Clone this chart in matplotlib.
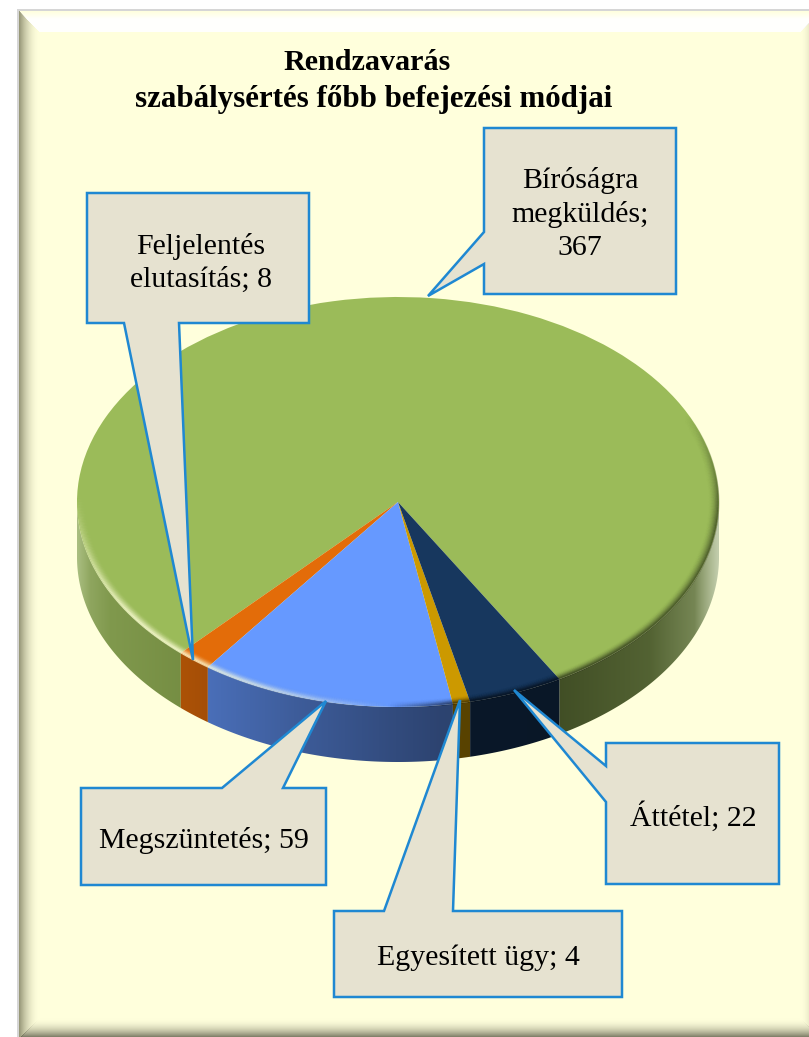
import numpy as np
import matplotlib
matplotlib.use("Agg")
import matplotlib.pyplot as plt
from matplotlib.patches import Polygon
from matplotlib.collections import LineCollection
from matplotlib.colors import to_rgb

W, H = 809, 1037
TITLE = ["Rendzavarás", "szabálysértés főbb befejezési módjai"]
categories = ["Bíróságra megküldés", "Feljelentés elutasítás", "Megszüntetés", "Egyesített ügy", "Áttétel"]
values = [367, 8, 59, 4, 22]
colors = ["#9BBB59", "#E36C09", "#6699FF", "#CC9900", "#17375E"]
label_lines = [["Bíróságra", "megküldés;", "367"], ["Feljelentés", "elutasítás; 8"],
               ["Megszüntetés; 59"], ["Egyesített ügy; 4"], ["Áttétel; 22"]]

plt.rcParams["font.family"] = ["Liberation Serif", "DejaVu Serif"]
fig = plt.figure(figsize=(W / 100, H / 100), dpi=100, facecolor="white")
ax = fig.add_axes([0, 0, 1, 1])
ax.set_xlim(0, W); ax.set_ylim(H, 0); ax.axis("off")

# frame with bevel
yy, xx = np.mgrid[0:H, 0:W] + 0.5
img = np.ones((H, W, 3))
L, T, R, B = 19, 11, 821, 1039
base = np.array([255, 255, 220]) / 255
img[(xx >= 17) & (yy >= 9)] = np.array([214, 214, 214]) / 255
inside = (xx >= L) & (yy >= T)
img[inside] = base
dl, dt, dr, db = xx - L, yy - T, R - xx, B - yy
bw = 21.0
def blend(mask, col, a):
    a = np.clip(a, 0, 1)[..., None]
    img[mask] = (img * (1 - a) + np.array(col) / 255 * a)[mask]
dm = np.minimum.reduce([dl, dt, dr, db])
ramp = lambda d: np.clip((bw - d) / bw, 0, 1)
blend(inside & (dl == dm), (120, 120, 90), ramp(dl) ** 2 * 0.8)
blend(inside & (dt == dm), (255, 255, 255), np.clip(dt / 8, 0, 1) * (dt < bw) * 0.95)
blend(inside & (dr == dm), (120, 120, 90), ramp(dr) ** 2 * 0.8)
blend(inside & (db == dm), (95, 95, 75), ramp(db) ** 2 * 1.0)
ax.imshow(img, extent=(0, W, H, 0), zorder=0, interpolation="nearest", aspect="auto")

# pie geometry in pixels
CX, CY, RX, RY, DEPTH = 398, 502, 321, 205, 55
pax = fig.add_axes([(CX - RX) / W, 1 - (CY + RY) / H, 2 * RX / W, 2 * RY / H], zorder=2)
wedges, _ = pax.pie(values, colors=colors, startangle=-59.8, radius=1, counterclock=True,
                    wedgeprops=dict(linewidth=0))
pax.set_aspect("auto")
pax.set_xlim(-1, 1); pax.set_ylim(-1, 1)
pax.set_clip_on(False)

# side wall, drawn in the pixel axes from the same slice angles
fx = [76, 90, 110, 180, 300, 440, 560, 650, 695, 718]
ff = [.88, .82, .80, .76, .60, .44, .42, .50, .60, .75]
fw = [.30, .12, .03, 0, 0, 0, 0, .03, .15, .55]
xs = np.arange(CX - RX, CX + RX + 1)
shade = np.interp(xs, fx, ff)[None, :, None]
white = np.interp(xs, fx, fw)[None, :, None]
side_ax_extent = (CX - RX, CX + RX, CY + RY + DEPTH + 5, CY - 5)
def side(theta1, theta2, col):
    t1, t2 = max(theta1, 180), min(theta2, 360)
    if t2 <= t1:
        return
    t = np.radians(np.linspace(t1, t2, 120))
    x = CX + RX * np.cos(t); y = CY - RY * np.sin(t)
    verts = np.r_[np.c_[x, y], np.c_[x, y + DEPTH][::-1]]
    poly = Polygon(verts, closed=True, transform=ax.transData, fc="none", ec="none")
    ax.add_patch(poly)
    rgb = np.array(to_rgb(col))[None, None, :] * shade * (1 - white) + white
    im = ax.imshow(rgb, extent=side_ax_extent, aspect="auto", zorder=1, interpolation="bilinear")
    im.set_clip_path(poly)
for w, c in zip(wedges, colors):
    a, b = w.theta1, w.theta2
    side(a, b, c)
    side(a + 360, b + 360, c)
    side(a - 360, b - 360, c)
ax.set_xlim(0, W); ax.set_ylim(H, 0)

# rim lighting on the upper face
t = np.radians(np.linspace(170, 385, 500))
pts = np.c_[np.cos(t), np.sin(t)]
deg = np.degrees(t[:-1])
light = np.clip((deg - 178) / 35, 0, 1) * np.clip((268 - deg) / 40, 0, 1)
dark = np.clip((deg - 268) / 12, 0, 1) * np.clip((385 - deg) / 30, 0, 1)
for i in range(9):
    scale = 0.998 - i * 0.0035
    fade = (1 - i / 9) ** 2
    p = pts * scale
    segs = np.stack([p[:-1], p[1:]], axis=1)
    cols = np.zeros((len(deg), 4))
    cols[:, :3] = np.where(light[:, None] > 0, [[1, 1, .85]], [[0, 0, 0]])
    cols[:, 3] = np.clip(np.maximum(light * .6 * fade, dark * .32 * fade), 0, 1)
    pax.add_collection(LineCollection(segs, colors=cols, linewidths=1.5, capstyle="butt", clip_on=False))

# callouts
oax = fig.add_axes([0, 0, 1, 1], zorder=3)
oax.set_xlim(0, W); oax.set_ylim(H, 0); oax.axis("off"); oax.patch.set_alpha(0)
EDGE, FILL = "#1F88D2", "#E6E2D0"
callouts = [
    [(484, 128), (676, 128), (676, 294), (484, 294), (484, 264), (428, 296), (484, 232)],
    [(87, 193), (309, 193), (309, 323), (179, 323), (193, 660), (124, 323), (87, 323)],
    [(81, 788), (222, 788), (326, 701), (283, 788), (326, 788), (326, 885), (81, 885)],
    [(334, 911), (384, 911), (460, 700), (453, 911), (622, 911), (622, 997), (334, 997)],
    [(606, 743), (779, 743), (779, 884), (606, 884), (606, 802), (514, 690), (606, 766)],
]
centers = [(580, 214), (201, 263), (204, 841), (478, 958), (693, 817)]
FS = 21.5
for poly, c, lines in zip(callouts, centers, label_lines):
    oax.add_patch(Polygon(poly, closed=True, fc=FILL, ec=EDGE, lw=1.8, joinstyle="miter"))
    oax.text(c[0], c[1], "\n".join(lines), ha="center", va="center", fontsize=FS, color="black",
             linespacing=1.34)
oax.text(367, 63, TITLE[0], ha="center", va="center", fontsize=21.7, fontweight="bold")
oax.text(374, 99, TITLE[1], ha="center", va="center", fontsize=22.3, fontweight="bold")

fig.savefig("out.png", dpi=100)
